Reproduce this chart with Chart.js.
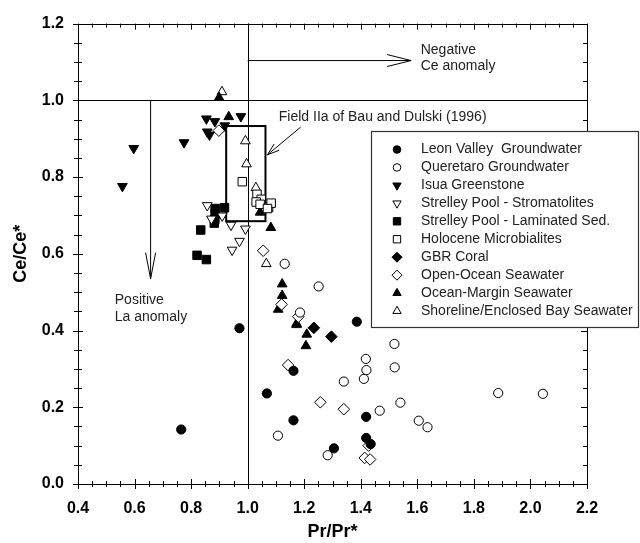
<!DOCTYPE html>
<html>
<head>
<meta charset="utf-8">
<script src="https://cdn.jsdelivr.net/npm/chart.js@4.4.0/dist/chart.umd.min.js"></script>
<style>
  html, body { margin: 0; padding: 0; background: #fff; }
  #wrap { width: 640px; height: 543px; }
</style>
</head>
<body>
<div id="wrap"><canvas id="chart" width="640" height="543"></canvas></div>
<script>
// ---- data (Pr/Pr*, Ce/Ce*) ----
const leonValley = [[0.765,0.142],[0.971,0.406],[1.068,0.236],[1.162,0.295],[1.162,0.166],[1.305,0.093],[1.386,0.423],[1.419,0.175],[1.419,0.12],[1.435,0.104]];
const queretaro = [[1.131,0.574],[1.251,0.515],[1.185,0.447],[1.519,0.365],[1.418,0.326],[1.42,0.297],[1.411,0.274],[1.52,0.304],[1.34,0.267],[1.54,0.212],[1.467,0.191],[1.605,0.165],[1.636,0.148],[1.107,0.126],[1.283,0.075],[1.886,0.237],[2.044,0.235]];
const isua = [[0.557,0.776],[0.597,0.875],[0.775,0.89],[0.854,0.952],[0.884,0.945],[0.857,0.918],[0.865,0.91],[0.919,0.934],[0.976,0.958]];
const strelleyStrom = [[0.857,0.726],[0.872,0.691],[0.91,0.699],[0.941,0.675],[0.992,0.665],[0.971,0.633],[0.945,0.61]];
const strelleyLam = [[0.885,0.718],[0.885,0.704],[0.884,0.69],[0.882,0.68],[0.918,0.72],[0.834,0.662],[0.821,0.596],[0.854,0.585]];
const holocene = [[0.981,0.788],[1.033,0.755],[1.048,0.742],[1.03,0.735],[1.044,0.729],[1.074,0.721],[1.083,0.732],[1.07,0.718]];
const gbrCoral = [[1.234,0.407],[1.296,0.384]];
const openOcean = [[0.898,0.921],[1.055,0.608],[1.12,0.468],[1.179,0.436],[1.143,0.31],[1.257,0.213],[1.34,0.195],[1.428,0.1],[1.414,0.068],[1.433,0.064]];
const oceanMargin = [[0.899,1.007],[0.933,0.957],[1.044,0.708],[1.082,0.668],[1.122,0.521],[1.122,0.491],[1.108,0.455],[1.173,0.418],[1.209,0.39],[1.206,0.36]];
const shoreline = [[0.909,1.022],[0.992,0.894],[0.996,0.834],[1.029,0.772],[1.066,0.574],[1.173,0.415]];

const seriesNames = ['Leon Valley  Groundwater', 'Queretaro Groundwater', 'Isua Greenstone',
  'Strelley Pool - Stromatolites', 'Strelley Pool - Laminated Sed.', 'Holocene Microbialites',
  'GBR Coral', 'Open-Ocean Seawater', 'Ocean-Margin Seawater', 'Shoreline/Enclosed Bay Seawater'];
const seriesData = [leonValley, queretaro, isua, strelleyStrom, strelleyLam, holocene, gbrCoral, openOcean, oceanMargin, shoreline];

// axis ticks
const xTicks = [0.4, 0.6, 0.8, 1.0, 1.2, 1.4, 1.6, 1.8, 2.0, 2.2];
const yTicks = [0.0, 0.2, 0.4, 0.6, 0.8, 1.0, 1.2];

// annotations (data coords)
const refLineX = 1.0, refLineY = 1.0;
const fieldBox = [0.924, 0.685, 1.063, 0.933];        // x1, y1, x2, y2
const ceArrow = [1.0, 1.105, 1.578, 1.105];
const laArrow = [0.655, 1.0, 0.655, 0.535];
const fieldArrow = [1.187, 0.93, 1.07, 0.858];
const notes = [
  ['Negative', 1.612, 1.13], ['Ce anomaly', 1.612, 1.09],
  ['Positive', 0.53, 0.478], ['La anomaly', 0.53, 0.436],
  ['Field IIa of Bau and Dulski (1996)', 1.11, 0.957]
];

// marker look per series: style, rotation, filled, radius
const markers = [
  ['circle', 0, true, 4.6], ['circle', 0, false, 4.6], ['triangle', 180, true, 5.6],
  ['triangle', 180, false, 5.6], ['rect', 0, true, 6], ['rect', 0, false, 6],
  ['rectRot', 0, true, 5.8], ['rectRot', 0, false, 5.8], ['triangle', 0, true, 5.6],
  ['triangle', 0, false, 5.6]
];

const FONT = "'Liberation Sans', Arial, Helvetica, sans-serif";
Chart.defaults.font.family = FONT;
Chart.defaults.color = '#000';

function drawMarker(ctx, style, rot, r, x, y, filled) {
  ctx.save();
  ctx.translate(x, y);
  ctx.rotate(rot * Math.PI / 180);
  ctx.beginPath();
  if (style === 'circle') {
    ctx.arc(0, 0, r, 0, Math.PI * 2);
  } else if (style === 'rect') {
    const s = r * Math.SQRT1_2;
    ctx.rect(-s, -s, 2 * s, 2 * s);
  } else if (style === 'rectRot') {
    ctx.moveTo(0, -r); ctx.lineTo(r, 0); ctx.lineTo(0, r); ctx.lineTo(-r, 0); ctx.closePath();
  } else {
    for (let k = 0; k < 3; k++) {
      const a = k * 2 * Math.PI / 3;
      const px = Math.sin(a) * r, py = -Math.cos(a) * r;
      k ? ctx.lineTo(px, py) : ctx.moveTo(px, py);
    }
    ctx.closePath();
  }
  ctx.fillStyle = filled ? '#000' : '#fff';
  ctx.fill();
  ctx.lineWidth = 1;
  ctx.strokeStyle = '#000';
  ctx.stroke();
  ctx.restore();
}

function arrow(ctx, x1, y1, x2, y2, len, half) {
  ctx.beginPath();
  ctx.moveTo(x1, y1); ctx.lineTo(x2, y2);
  const ang = Math.atan2(y2 - y1, x2 - x1);
  const bx = x2 - Math.cos(ang) * len, by = y2 - Math.sin(ang) * len;
  const nx = -Math.sin(ang) * half, ny = Math.cos(ang) * half;
  ctx.moveTo(bx + nx, by + ny); ctx.lineTo(x2, y2); ctx.lineTo(bx - nx, by - ny);
  ctx.stroke();
}

const decor = {
  id: 'decor',
  beforeDatasetsDraw(chart) {
    const { ctx, chartArea: a, scales: { x, y } } = chart;
    ctx.save();
    ctx.strokeStyle = '#000';
    ctx.lineWidth = 1;
    // frame
    ctx.strokeRect(Math.round(a.left) + 0.5, Math.round(a.top) + 0.5, Math.round(a.right - a.left), Math.round(a.bottom - a.top));
    // minor/major tick marks on all sides
    ctx.beginPath();
    for (let i = 0; i <= 36; i++) {
      const px = Math.round(x.getPixelForValue(0.4 + i * 0.05)) + 0.5;
      const major = i % 4 === 0;
      const inn = major ? 5 : 3, out = major ? 5 : 3;
      ctx.moveTo(px, a.bottom + out); ctx.lineTo(px, a.bottom - inn);
      ctx.moveTo(px, a.top); ctx.lineTo(px, a.top + (major ? 6 : 4));
    }
    for (let i = 0; i <= 24; i++) {
      const py = Math.round(y.getPixelForValue(i * 0.05)) + 0.5;
      const major = i % 4 === 0;
      const inn = major ? 5 : 4, out = major ? 5 : 4;
      ctx.moveTo(a.left - out, py); ctx.lineTo(a.left + inn, py);
      ctx.moveTo(a.right, py); ctx.lineTo(a.right - (major ? 6 : 4), py);
    }
    ctx.stroke();
    // reference lines
    const rx = Math.round(x.getPixelForValue(refLineX)) + 0.5;
    const ry = Math.round(y.getPixelForValue(refLineY)) + 0.5;
    ctx.beginPath();
    ctx.moveTo(rx, a.top); ctx.lineTo(rx, a.bottom);
    ctx.moveTo(a.left, ry); ctx.lineTo(a.right, ry);
    ctx.stroke();
    // arrows
    arrow(ctx, x.getPixelForValue(ceArrow[0]), y.getPixelForValue(ceArrow[1]) + 0.5,
      x.getPixelForValue(ceArrow[2]), y.getPixelForValue(ceArrow[3]) + 0.5, 24, 6);
    arrow(ctx, x.getPixelForValue(laArrow[0]) + 0.5, y.getPixelForValue(laArrow[1]),
      x.getPixelForValue(laArrow[2]) + 0.5, y.getPixelForValue(laArrow[3]), 26, 5);
    arrow(ctx, x.getPixelForValue(fieldArrow[0]), y.getPixelForValue(fieldArrow[1]),
      x.getPixelForValue(fieldArrow[2]), y.getPixelForValue(fieldArrow[3]), 12, 4);
    // field IIa box
    ctx.lineWidth = 2;
    const bx1 = x.getPixelForValue(fieldBox[0]), by1 = y.getPixelForValue(fieldBox[1]);
    const bx2 = x.getPixelForValue(fieldBox[2]), by2 = y.getPixelForValue(fieldBox[3]);
    ctx.strokeRect(bx1, by2, bx2 - bx1, by1 - by2);
    // notes
    ctx.fillStyle = '#222';
    ctx.font = '14px ' + FONT;
    ctx.textBaseline = 'middle';
    ctx.textAlign = 'left';
    notes.forEach(([t, vx, vy]) => ctx.fillText(t, x.getPixelForValue(vx), y.getPixelForValue(vy)));
    ctx.restore();
  },
  afterDatasetsDraw(chart) {
    const { ctx } = chart;
    ctx.save();
    // legend box
    const L = 371, T = 131, R = 638, B = 327;
    ctx.fillStyle = '#fff';
    ctx.fillRect(L, T, R - L, B - T);
    ctx.strokeStyle = '#333';
    ctx.lineWidth = 1.2;
    ctx.strokeRect(L + 0.5, T + 0.5, R - L, B - T);
    ctx.font = '14px ' + FONT;
    ctx.textBaseline = 'middle';
    seriesNames.forEach((name, i) => {
      const yy = 149.5 + i * 17.95;
      const m = markers[i];
      drawMarker(ctx, m[0], m[1], m[3] - 0.8, 397, yy, m[2]);
      ctx.fillStyle = '#222';
      ctx.fillText(name, 421, yy);
    });
    ctx.restore();
  }
};

const datasets = seriesData.map((pts, i) => {
  const m = markers[i];
  return {
    label: seriesNames[i],
    data: pts.map(p => ({ x: p[0], y: p[1] })),
    pointStyle: m[0],
    rotation: m[1],
    pointRadius: m[3],
    pointBackgroundColor: m[2] ? '#000' : '#fff',
    pointBorderColor: '#000',
    pointBorderWidth: 1,
    showLine: false
  };
});

new Chart(document.getElementById('chart'), {
  type: 'scatter',
  data: { datasets },
  options: {
    responsive: false,
    animation: false,
    devicePixelRatio: 1,
    layout: { padding: { top: 20, right: 53, left: 0, bottom: 0 } },
    plugins: { legend: { display: false }, tooltip: { enabled: false } },
    scales: {
      x: {
        type: 'linear', min: 0.4, max: 2.2,
        afterBuildTicks: s => { s.ticks = xTicks.map(v => ({ value: v })); },
        afterFit: s => { s.height = 59; },
        grid: { display: false, drawTicks: false },
        border: { display: false },
        ticks: { padding: 15, font: { size: 16, weight: 'bold' }, callback: v => Number(v).toFixed(1) },
        title: { display: true, text: 'Pr/Pr*', font: { size: 18, weight: 'bold' }, padding: { top: 0, bottom: 0 } }
      },
      y: {
        type: 'linear', min: 0, max: 1.2,
        afterBuildTicks: s => { s.ticks = yTicks.map(v => ({ value: v })); },
        afterFit: s => { s.width = 78; },
        grid: { display: false, drawTicks: false },
        border: { display: false },
        ticks: { padding: 14, font: { size: 16, weight: 'bold' }, callback: v => Number(v).toFixed(1) },
        title: { display: true, text: 'Ce/Ce*', font: { size: 18, weight: 'bold' }, padding: { top: 10, bottom: 0 } }
      }
    }
  },
  plugins: [decor]
});
</script>
</body>
</html>
